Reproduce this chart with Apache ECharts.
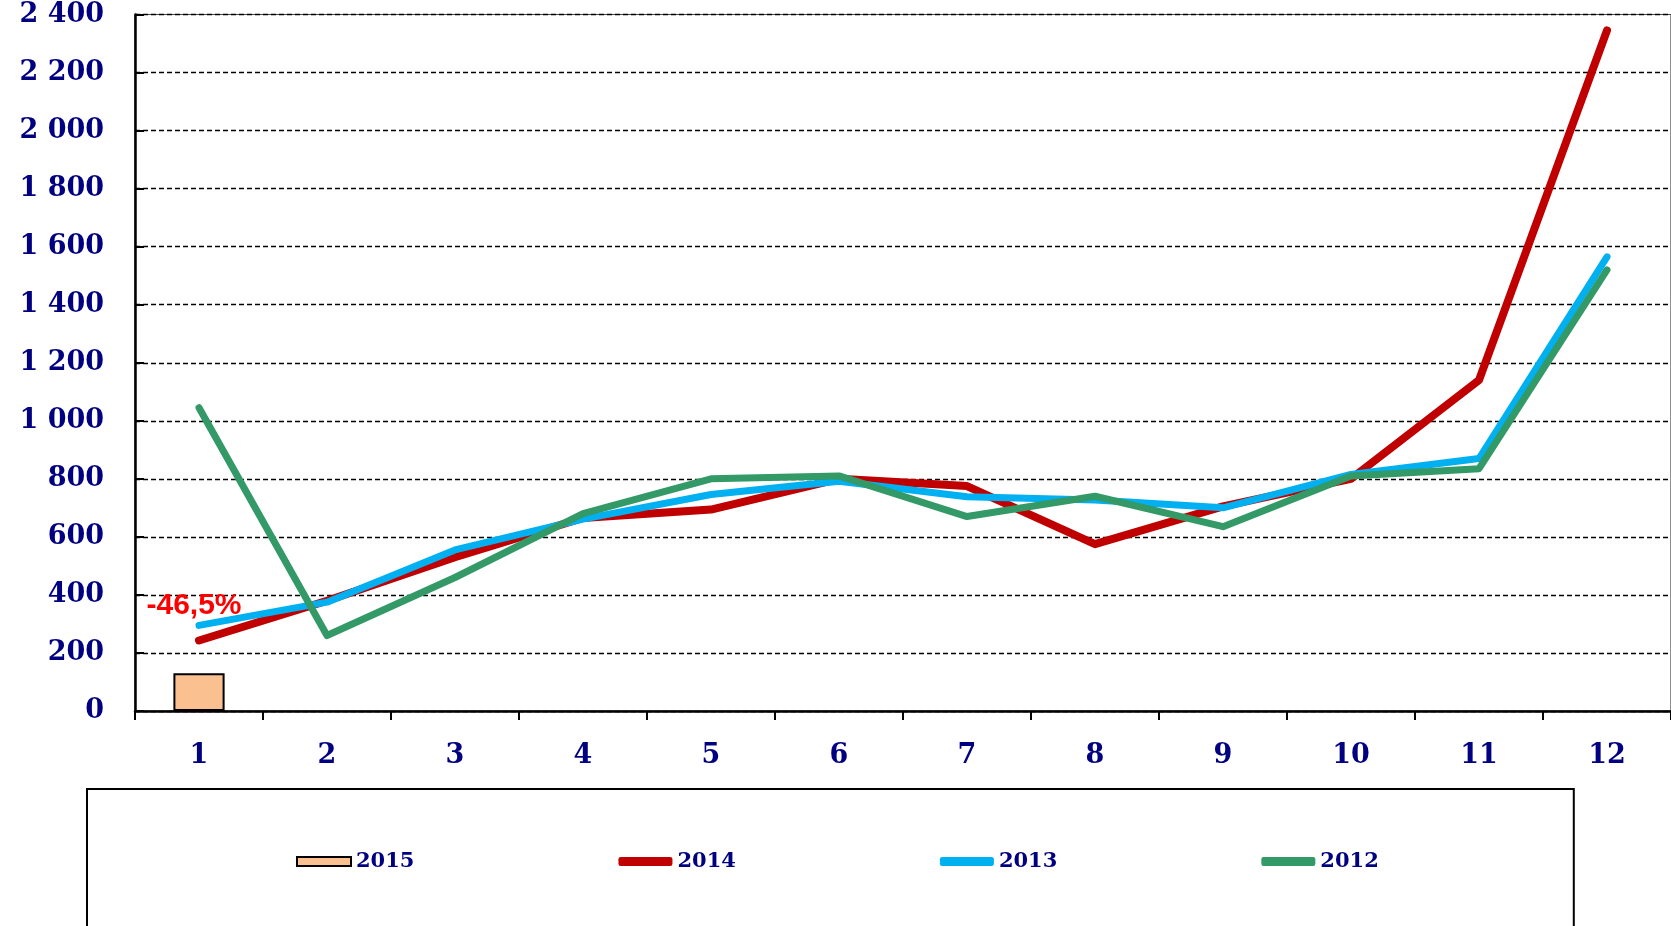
<!DOCTYPE html>
<html>
<head>
<meta charset="utf-8">
<script src="https://cdn.jsdelivr.net/npm/echarts@6/dist/echarts.min.js"></script>
<style>
html,body{margin:0;padding:0;background:#fff;}
#c{width:1671px;height:926px;}
</style>
</head>
<body>
<div id="c"></div>
<script>
var categories = ['1','2','3','4','5','6','7','8','9','10','11','12'];
var s2015 = [130, null, null, null, null, null, null, null, null, null, null, null];
var s2014 = [243, 380, 530, 665, 694, 800, 775, 575, 705, 800, 1140, 2345];
var s2013 = [295, 375, 555, 661, 746, 792, 738, 727, 700, 815, 870, 1565];
var s2012 = [1045, 260, 460, 680, 800, 810, 670, 740, 635, 810, 835, 1520];
var yTicks = {min: 0, max: 2400, interval: 200};

var change = (s2015[0] / s2014[0] - 1) * 100;
var changeLabel = change.toFixed(1).replace('.', ',') + '%';

var navy = '#000080';
var serif = '"DejaVu Serif", serif';

var chart = echarts.init(document.getElementById('c'), null, {renderer: 'canvas'});
chart.setOption({
  animation: false,
  backgroundColor: '#ffffff',
  grid: {left: 135, right: -2, top: 14.5, bottom: 215, containLabel: false,
    show: true, borderColor: '#444', borderWidth: 1.2, backgroundColor: 'transparent'},
  legend: {
    left: 87, top: 789,
    padding: [62, 195, 100, 209],
    itemGap: 204,
    itemWidth: 54, itemHeight: 9,
    borderColor: '#000', borderWidth: 2,
    textStyle: {fontFamily: serif, fontWeight: 'bold', fontSize: 21, color: navy, padding: [10, 0, 0, 0]},
    data: [
      {name: '2015', icon: 'rect', itemStyle: {color: '#FAC090', borderColor: '#000', borderWidth: 2}},
      {name: '2014', icon: 'roundRect', itemStyle: {color: '#C00000'}},
      {name: '2013', icon: 'roundRect', itemStyle: {color: '#00B0F0'}},
      {name: '2012', icon: 'roundRect', itemStyle: {color: '#339966'}}
    ]
  },
  xAxis: {
    type: 'category',
    data: categories,
    boundaryGap: true,
    axisLine: {lineStyle: {color: '#000', width: 2.5}},
    axisTick: {show: true, inside: false, length: 9, lineStyle: {color: '#000', width: 2}},
    axisLabel: {fontFamily: serif, fontWeight: 'bold', fontSize: 27, color: navy, margin: 31}
  },
  yAxis: {
    type: 'value',
    min: yTicks.min, max: yTicks.max, interval: yTicks.interval,
    axisLine: {show: true, lineStyle: {color: '#000', width: 2.5}},
    axisTick: {show: true, inside: true, length: 9, lineStyle: {color: '#000', width: 2}},
    splitLine: {show: true, lineStyle: {color: '#000', type: [5, 3], width: 1.3}},
    axisLabel: {
      fontFamily: serif, fontWeight: 'bold', fontSize: 27, color: navy, margin: 31,
      padding: [6, 0, 0, 0],
      formatter: function (v) {
        var s = String(v);
        if (s.length > 3) s = s.slice(0, s.length - 3) + ' ' + s.slice(s.length - 3);
        return s;
      }
    }
  },
  series: [
    {
      name: '2015', type: 'bar', data: s2015, barWidth: '40%',
      itemStyle: {color: '#FAC090', borderColor: '#000', borderWidth: 2}
    },
    {
      name: '2014', type: 'line', data: s2014,
      symbol: 'none', lineStyle: {color: '#C00000', width: 8, cap: 'round', join: 'round'},
      itemStyle: {color: '#C00000'},
      markPoint: {
        symbol: 'circle', symbolSize: 0, silent: true,
        data: [{coord: [categories[0], s2014[0]], value: changeLabel}],
        label: {show: true, position: 'top', distance: 20, formatter: changeLabel, offset: [-5, 0],
          fontFamily: '"Liberation Sans", Arial, sans-serif', fontWeight: 'bold', fontSize: 30, color: '#FF0000'}
      }
    },
    {
      name: '2013', type: 'line', data: s2013,
      symbol: 'none', lineStyle: {color: '#00B0F0', width: 7, cap: 'round', join: 'round'},
      itemStyle: {color: '#00B0F0'}
    },
    {
      name: '2012', type: 'line', data: s2012,
      symbol: 'none', lineStyle: {color: '#339966', width: 7, cap: 'round', join: 'round'},
      itemStyle: {color: '#339966'}
    }
  ]
});
</script>
</body>
</html>
